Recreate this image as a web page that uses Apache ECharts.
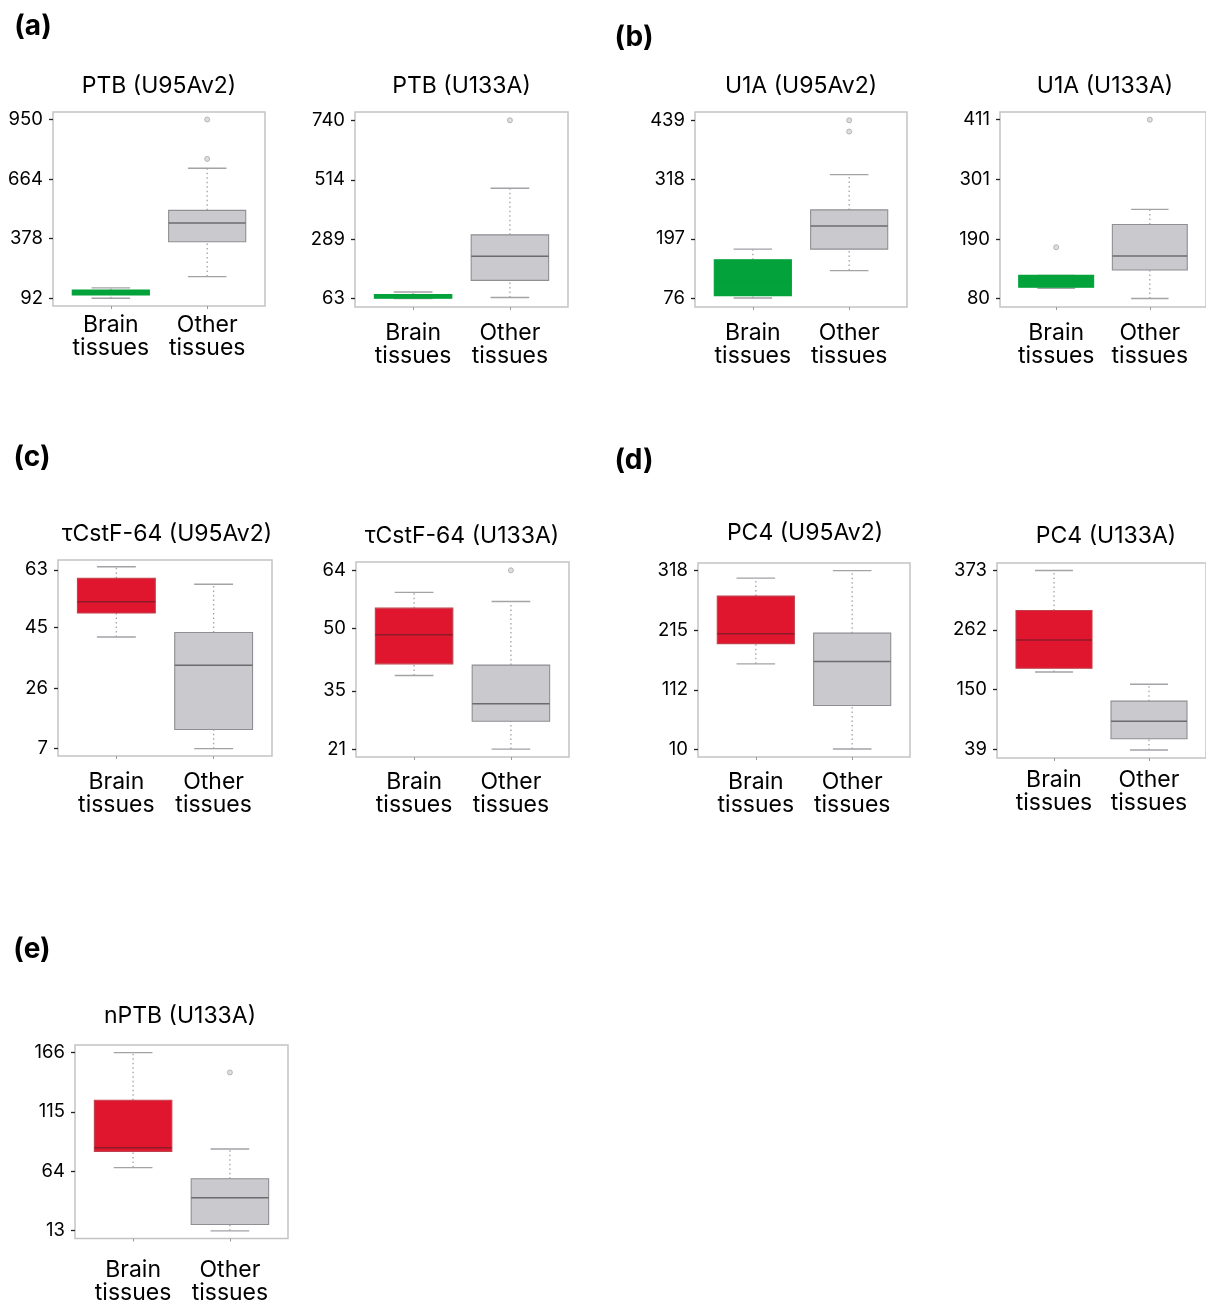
<!DOCTYPE html>
<html><head><meta charset="utf-8">
<script src="https://cdn.jsdelivr.net/npm/echarts@6/dist/echarts.min.js"></script>
<style>html,body{margin:0;padding:0;background:#fff}#c{width:1206px;height:1305px}</style>
</head><body><div id="c"></div>
<script>
// ---------------- DATA ----------------
const categories = ['Brain\ntissues', 'Other\ntissues'];
const panelTitles = ['PTB (U95Av2)', 'PTB (U133A)', 'U1A (U95Av2)', 'U1A (U133A)',
  'τCstF-64 (U95Av2)', 'τCstF-64 (U133A)', 'PC4 (U95Av2)', 'PC4 (U133A)', 'nPTB (U133A)'];
const panelLetters = ['(a)', '(b)', '(c)', '(d)', '(e)'];
const tickLabels = [
  [92, 378, 664, 950], [63, 289, 514, 740], [76, 197, 318, 439], [80, 190, 301, 411],
  [7, 26, 45, 63], [21, 35, 50, 64], [10, 112, 215, 318], [39, 150, 262, 373], [13, 64, 115, 166]
];
const axisRanges = [
  [55, 986], [31, 771.5], [57.7, 456], [64.4, 425.3],
  [4.7, 66.1], [19.1, 66], [-3.8, 331.1], [22.1, 386.9], [5.9, 172.6]
];
// [min, Q1, median, Q3, max]
const brainStats = [
  [92, 108, 120, 132, 142], [63, 64, 70, 78, 88], [76, 81, 110, 154, 176], [99, 101, 115, 123, 123],
  [42, 49.5, 53, 60.4, 64], [38.7, 41.5, 48.5, 54.9, 58.7], [157, 192, 209, 274, 305],
  [183, 190, 243, 298, 373], [67, 81, 84, 125, 166]
];
const otherStats = [
  [196, 363, 453, 514, 716], [67, 132, 224, 305, 482], [132, 176, 223, 256, 328], [80, 133, 159, 217, 245],
  [7, 13, 33.1, 43.4, 58.5], [21, 27.7, 31.9, 41.2, 56.5], [10, 85, 161, 210, 318],
  [37, 58, 91, 128.5, 160], [12.5, 18, 41, 57.4, 83]
];
const brainOutliers = [[], [], [], [175], [], [], [], [], []];
const otherOutliers = [[761, 950], [740], [416, 439], [411], [], [64], [], [], [149]];

// ---------------- LAYOUT / STYLE ----------------
const grids = [
  {left: 53, top: 112, width: 212, height: 194},
  {left: 355, top: 112, width: 213, height: 195},
  {left: 695, top: 112, width: 212, height: 195},
  {left: 1000, top: 112, width: 212, height: 195},
  {left: 58, top: 560, width: 214, height: 196},
  {left: 356, top: 562, width: 213, height: 195},
  {left: 698, top: 563, width: 212, height: 194},
  {left: 997, top: 563, width: 214, height: 195},
  {left: 75, top: 1045, width: 213, height: 194}
];
const labelMargins = [7.5, 14.5, 14.5, 14.5, 14.5, 13.5, 13.5, 10.5, 20.5];
const titlePos = [[159, 86], [461.5, 86], [801, 86], [1105, 86], [167, 534], [462, 536], [805, 533], [1106, 536], [180, 1016]];
const letterPos = [[33, 27], [634, 38], [32, 458], [634, 461], [32, 950]];
const brainIsGreen = [true, true, true, true, false, false, false, false, false];

const GREEN = {fill: '#03a23b', stroke: '#03a23b', median: '#03a23b'};
const RED = {fill: '#e0162f', stroke: '#c0404c', median: '#8e1b29'};
const GRAY = {fill: '#c9c9ce', stroke: '#8e8e93', median: '#6b6b70'};
const WHISK = '#a2a2a7';
const FONT = 'Inter, "Liberation Sans", Arial, sans-serif';

function makeRender(styles) {
  return function (params, api) {
    const x = api.value(0);
    const s = styles[params.dataIndex];
    const w = api.size([0.8, 0])[0];
    const cx = api.coord([x, api.value(3)])[0];
    const y = i => api.coord([x, api.value(i)])[1];
    const yMin = y(1), yQ1 = y(2), yMed = y(3), yQ3 = y(4), yMax = y(5);
    const dotted = {stroke: WHISK, lineWidth: 1.3, lineDash: [1.5, 3]};
    const cap = {stroke: WHISK, lineWidth: 1.4};
    return {
      type: 'group',
      children: [
        {type: 'line', shape: {x1: cx, y1: yQ3, x2: cx, y2: yMax}, style: dotted},
        {type: 'line', shape: {x1: cx, y1: yMin, x2: cx, y2: yQ1}, style: dotted},
        {type: 'line', shape: {x1: cx - w / 4, y1: yMax, x2: cx + w / 4, y2: yMax}, style: cap},
        {type: 'line', shape: {x1: cx - w / 4, y1: yMin, x2: cx + w / 4, y2: yMin}, style: cap},
        {type: 'rect', shape: {x: cx - w / 2, y: yQ3, width: w, height: Math.max(yQ1 - yQ3, 1)},
          style: {fill: s.fill, stroke: s.stroke, lineWidth: 1.1}},
        {type: 'line', shape: {x1: cx - w / 2, y1: yMed, x2: cx + w / 2, y2: yMed},
          style: {stroke: s.median, lineWidth: 1.5}}
      ]
    };
  };
}

const option = {
  animation: false,
  backgroundColor: '#fff',
  grid: [], xAxis: [], yAxis: [], series: [], graphic: []
};

for (let i = 0; i < 9; i++) {
  option.grid.push(Object.assign({show: true, borderColor: '#c4c4c8', borderWidth: 1.5,
    backgroundColor: 'transparent'}, grids[i]));
  option.xAxis.push({
    gridIndex: i, type: 'value', min: 0.4, max: 2.6,
    axisLine: {show: false, onZero: false}, splitLine: {show: false},
    axisTick: {show: true, customValues: [1, 2], length: 3, lineStyle: {color: '#9a9a9a', width: 1}},
    axisLabel: {customValues: [1, 2], formatter: v => categories[Math.round(v) - 1],
      margin: labelMargins[i], fontSize: 23, lineHeight: 23, color: '#000', fontFamily: FONT}
  });
  option.yAxis.push({
    gridIndex: i, type: 'value', min: axisRanges[i][0], max: axisRanges[i][1],
    axisLine: {show: false, onZero: false}, splitLine: {show: false},
    axisTick: {show: true, customValues: tickLabels[i], length: 4, lineStyle: {color: '#222', width: 1.3}},
    axisLabel: {customValues: tickLabels[i], formatter: v => String(v),
      margin: 10, fontSize: 18.5, color: '#000', fontFamily: FONT}
  });
  const styles = [brainIsGreen[i] ? GREEN : RED, GRAY];
  option.series.push({
    type: 'custom', xAxisIndex: i, yAxisIndex: i,
    renderItem: makeRender(styles),
    encode: {x: 0, y: [1, 2, 3, 4, 5]},
    data: [[1].concat(brainStats[i]), [2].concat(otherStats[i])]
  });
  const outs = brainOutliers[i].map(v => [1, v]).concat(otherOutliers[i].map(v => [2, v]));
  option.series.push({
    type: 'scatter', xAxisIndex: i, yAxisIndex: i, symbol: 'circle', symbolSize: 5,
    itemStyle: {color: '#d6d6da', borderColor: '#a8a8ad', borderWidth: 1},
    data: outs
  });
  option.graphic.push({
    type: 'text', x: titlePos[i][0], y: titlePos[i][1],
    style: {text: panelTitles[i], textAlign: 'center', textVerticalAlign: 'middle',
      font: '23px ' + FONT, fill: '#000'}
  });
}
panelLetters.forEach((t, k) => {
  option.graphic.push({
    type: 'text', x: letterPos[k][0], y: letterPos[k][1],
    style: {text: t, textAlign: 'center', textVerticalAlign: 'middle',
      font: 'bold 28px ' + FONT, fill: '#000'}
  });
});

const chart = echarts.init(document.getElementById('c'), null, {renderer: 'canvas'});
chart.setOption(option);
</script>
</body></html>
